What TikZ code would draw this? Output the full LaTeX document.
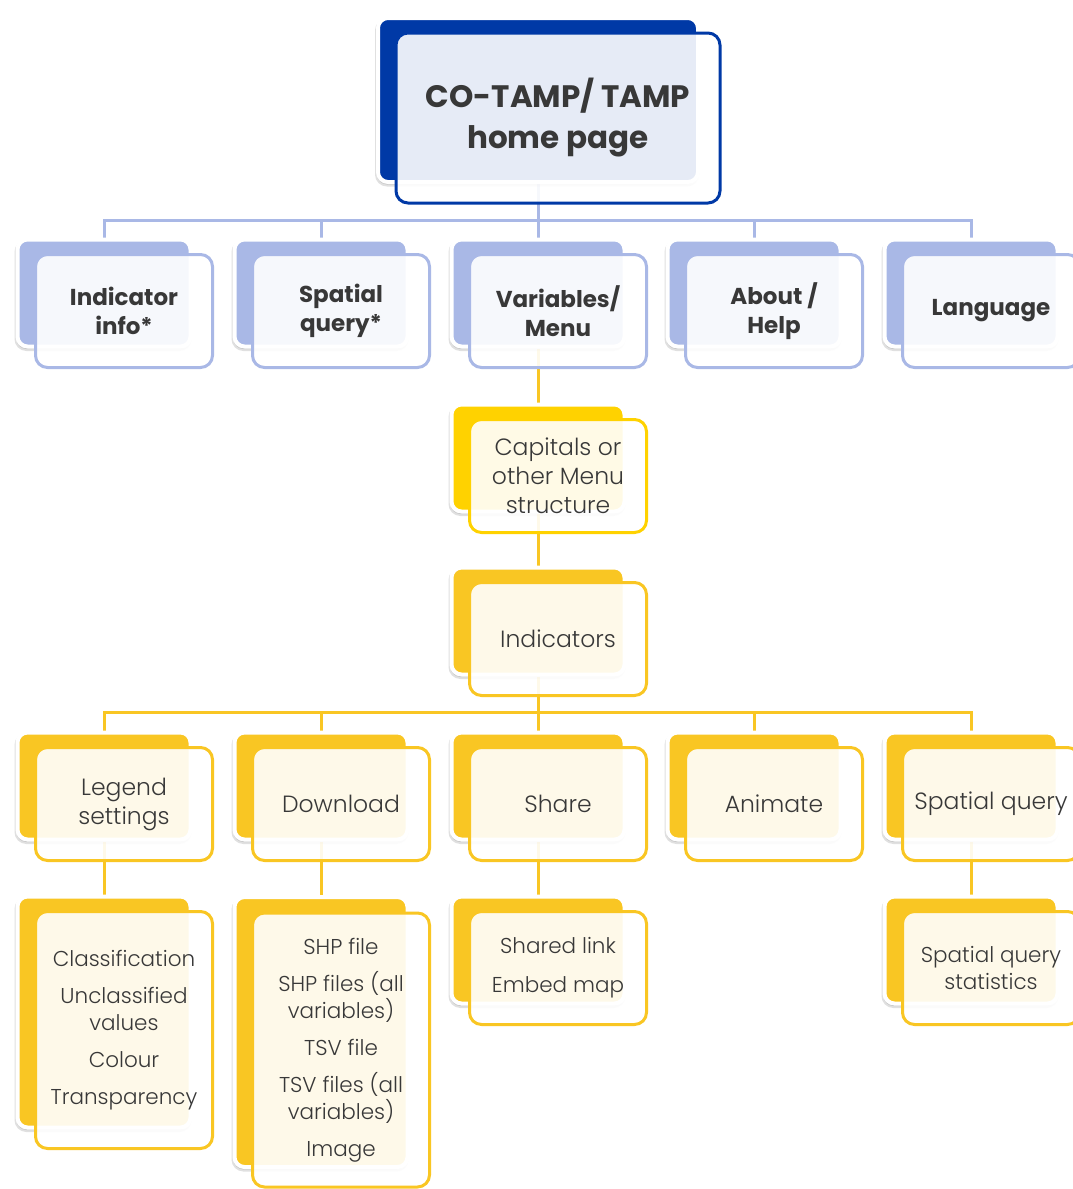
\documentclass[tikz,border=0pt]{standalone}
\usepackage{fontspec}
\setmainfont{Poppins}
\newfontfamily\thinfont{Poppins Light}
\usetikzlibrary{positioning,shadows}
\definecolor{navy}{HTML}{0039A6}
\definecolor{lavender}{HTML}{A9B8E6}
\definecolor{gold}{HTML}{F9C623}
\definecolor{lemon}{HTML}{FFD200}
\definecolor{ink}{HTML}{383838}
\pgfdeclarelayer{background}
\pgfsetlayers{background,main}
\tikzset{
 back/.style={rounded corners=10pt, fill=#1, draw=white, line width=4pt,
  minimum width=173pt, minimum height=107pt,
  general shadow={fill=black, draw=black, line width=4pt, opacity=0.12,
   shadow xshift=-1pt, shadow yshift=-2.5pt}},
 front/.style={rounded corners=12pt, fill=white, fill opacity=0.9, text opacity=1,
  draw=#1, line width=3pt, minimum width=177pt, minimum height=113pt,
  align=center, text=ink, inner sep=0pt},
 link/.style={line width=3pt, draw=#1},
 head/.style={font=\fontsize{31}{41}\selectfont\bfseries},
 menu/.style={font=\fontsize{23}{29}\selectfont\bfseries},
 item/.style={font=\thinfont\fontsize{23.5}{29}\selectfont},
 leaf/.style={font=\thinfont\fontsize{21.5}{27}\selectfont},
}
\begin{document}
\begin{tikzpicture}[x=1pt, y=-1pt]
 \useasboundingbox (0,0) rectangle (1073,1189); %画像の枠
 \begin{pgfonlayer}{background}
  \fill[white] (0,0) rectangle (1073,1189); %背景
 \end{pgfonlayer}
 % ホーム
 \node[back=navy, minimum width=320pt, minimum height=164pt] (home) at (538,100) {}; %後ろ
 \node[front=navy, head, minimum width=324pt, minimum height=170pt] (homeF) at ([shift={(20,18)}]home) {CO-TAMP/ TAMP\\home page}; %前
 % 一段目
 \node[back=lavender] (info) at (104,293) {};
 \node[front=lavender, menu] (infoF) at ([shift={(20,18)}]info) {Indicator\\info*};
 \node[back=lavender] (query) at (321,293) {};
 \node[front=lavender, menu] (queryF) at ([shift={(20,18)}]query) {Spatial\\query*};
 \node[back=lavender] (vars) at (538,293) {};
 \node[front=lavender, menu] (varsF) at ([shift={(20,18)}]vars) {Variables/\\Menu};
 \node[back=lavender] (help) at (754,293) {};
 \node[front=lavender, menu] (helpF) at ([shift={(20,18)}]help) {About /\\Help};
 \node[back=lavender] (lang) at (971,293) {};
 \node[front=lavender, menu] (langF) at ([shift={(20,18)}]lang) {Language};
 % メニュー
 \node[back=lemon] (caps) at (538,458) {};
 \node[front=lemon, item] (capsF) at ([shift={(20,18)}]caps) {Capitals or\\other Menu\\structure};
 \node[back=gold] (ind) at (538,621) {};
 \node[front=gold, item] (indF) at ([shift={(20,18)}]ind) {Indicators};
 % 三段目
 \node[back=gold] (legend) at (104,786) {};
 \node[front=gold, item] (legendF) at ([shift={(20,18)}]legend) {Legend\\settings};
 \node[back=gold] (down) at (321,786) {};
 \node[front=gold, item] (downF) at ([shift={(20,18)}]down) {Download};
 \node[back=gold] (share) at (538,786) {};
 \node[front=gold, item] (shareF) at ([shift={(20,18)}]share) {Share};
 \node[back=gold] (anim) at (754,786) {};
 \node[front=gold, item] (animF) at ([shift={(20,18)}]anim) {Animate};
 \node[back=gold] (squery) at (971,786) {};
 \node[front=gold, item] (squeryF) at ([shift={(20,18)}]squery) {Spatial query};
 % 四段目
 \node[back=gold, minimum height=231pt] (legendL) at (104,1012) {};
 \node[front=gold, leaf, minimum height=237pt] (legendLF) at ([shift={(20,18)}]legendL) {Classification\\[10pt]Unclassified\\values\\[10pt]Colour\\[10pt]Transparency};
 \node[back=gold, minimum height=270pt] (downL) at (321,1032) {};
 \node[front=gold, leaf, minimum height=274pt] (downLF) at ([shift={(20,18)}]downL) {SHP file\\[10pt]SHP files (all\\variables)\\[10pt]TSV file\\[10pt]TSV files (all\\variables)\\[10pt]Image};
 \node[back=gold] (shareL) at (538,950) {};
 \node[front=gold, leaf] (shareLF) at ([shift={(20,18)}]shareL) {Shared link\\[12pt]Embed map};
 \node[back=gold] (squeryL) at (971,950) {};
 \node[front=gold, leaf] (squeryLF) at ([shift={(20,18)}]squeryL) {Spatial query\\statistics};
 % 線
 \coordinate (busT) at (538,220); %上の横線
 \coordinate (busI) at (538,712); %下の横線
 \begin{pgfonlayer}{background}
  \draw[link=lavender] (home.south) -- (busT);
  \foreach \n in {info,query,vars,help,lang}
   \draw[link=lavender] (\n.north) |- (busT);
  \draw[link=gold] (vars.south) -- (caps.north);
  \draw[link=gold] (caps.south) -- (ind.north);
  \draw[link=gold] (ind.south) -- (busI);
  \foreach \n in {legend,down,share,anim,squery}
   \draw[link=gold] (\n.north) |- (busI);
  \draw[link=gold] (legend.south) -- (legendL.north);
  \draw[link=gold] (down.south) -- (downL.north);
  \draw[link=gold] (share.south) -- (shareL.north);
  \draw[link=gold] (squery.south) -- (squeryL.north);
 \end{pgfonlayer}
\end{tikzpicture}
\end{document}
